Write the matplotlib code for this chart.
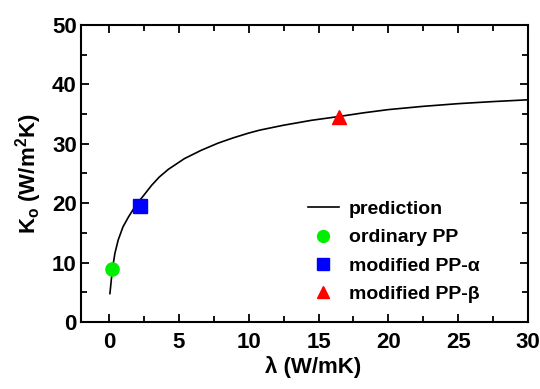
import matplotlib
matplotlib.use("Agg")
import matplotlib.pyplot as plt
from matplotlib.ticker import MultipleLocator

plt.rcParams['font.family'] = ['Liberation Sans', 'DejaVu Sans']
plt.rcParams['font.weight'] = 'bold'

# prediction curve
pred_lam = [0.07, 0.19, 0.25, 0.43, 0.66, 1.0, 1.4, 1.75, 2.2, 2.45, 3.05, 3.6,
            4.25, 5.4, 6.6, 7.8, 8.9, 10.0, 10.8, 12.45, 14.5, 16.5, 18.2,
            20.0, 22.5, 25.0, 27.5, 30.0]
pred_k = [4.8, 7.6, 9.0, 11.6, 13.8, 16.0, 17.7, 19.0, 20.5, 21.2, 23.0, 24.4,
          25.7, 27.5, 28.9, 30.1, 31.0, 31.8, 32.3, 33.1, 33.95, 34.6, 35.2,
          35.75, 36.3, 36.75, 37.1, 37.4]

# measured points
pp_lam, pp_k = [0.24], [9.0]
alpha_lam, alpha_k = [2.25], [19.6]
beta_lam, beta_k = [16.45], [34.5]

fig = plt.figure(figsize=(5.4, 3.89), dpi=100)
ax = fig.add_axes([0.150, 0.172, 0.828, 0.764])

ax.plot(pred_lam, pred_k, color='black', lw=1.2, label='prediction')
ax.plot(pp_lam, pp_k, 'o', color='#00ee00', ms=9.5, ls='none', label='ordinary PP')
ax.plot(alpha_lam, alpha_k, 's', color='#0000ff', ms=9.5, ls='none',
        label='modified PP-α')
ax.plot(beta_lam, beta_k, '^', color='#ff0000', ms=9.5, ls='none',
        label='modified PP-β')

ax.set_xlim(-2, 30)
ax.set_ylim(0, 50)
ax.xaxis.set_major_locator(MultipleLocator(5))
ax.xaxis.set_minor_locator(MultipleLocator(2.5))
ax.yaxis.set_major_locator(MultipleLocator(10))
ax.yaxis.set_minor_locator(MultipleLocator(5))
ax.tick_params(which='both', direction='in', top=True, right=True,
               width=1.3, labelsize=16)
ax.tick_params(axis='x', which='major', length=6, pad=7)
ax.tick_params(axis='y', which='major', length=6, pad=3)
ax.tick_params(which='minor', length=4)
for s in ax.spines.values():
    s.set_linewidth(1.5)

ax.set_ylabel(r'K$_\mathregular{o}$ (W/m$^\mathregular{2}$K)', fontsize=16,
              fontweight='bold', labelpad=6)
ax.set_xlabel('λ (W/mK)', fontsize=16, fontweight='bold', labelpad=4)
ax.xaxis.set_label_coords(0.52, -0.115)

ax.legend(loc='lower right', bbox_to_anchor=(0.93, 0.005), frameon=False,
          fontsize=14, handlelength=1.6, handletextpad=0.5, labelspacing=0.55,
          borderaxespad=0.5, markerscale=0.9)

fig.savefig('out.png', dpi=100)
